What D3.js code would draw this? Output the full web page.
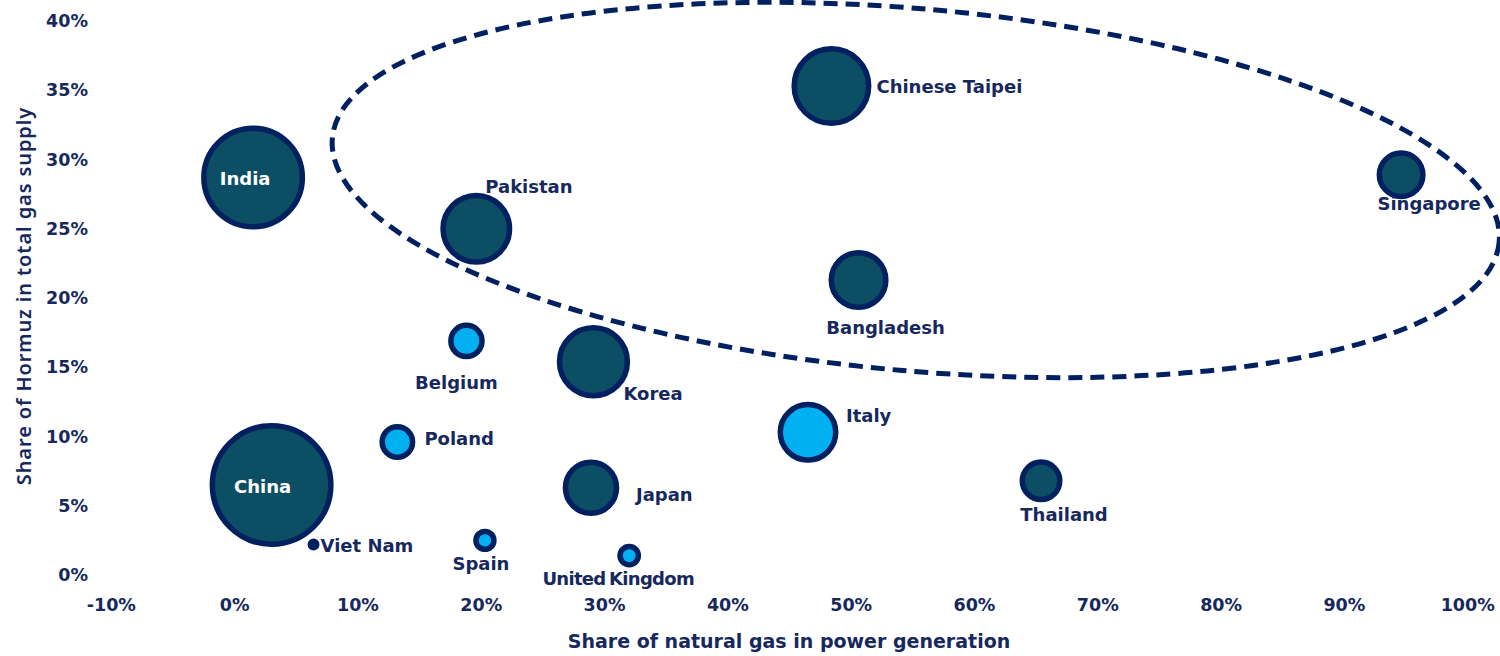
<!DOCTYPE html>
<html><head><meta charset="utf-8">
<script src="https://cdn.jsdelivr.net/npm/d3@7"></script>
<style>
body{margin:0;background:#fff}
svg{display:block}
text{font-family:"DejaVu Sans","Noto Sans",sans-serif}
</style>
</head><body>
<svg id="chart" width="1500" height="656"></svg>
<script>
// ---- data ----
const countries   = ["India","China","Pakistan","Chinese Taipei","Singapore","Bangladesh","Belgium","Korea","Italy","Poland","Japan","Thailand","Viet Nam","Spain","United Kingdom"];
const gasShare    = [0.015, 0.030, 0.196, 0.484, 0.946, 0.506, 0.188, 0.291, 0.465, 0.132, 0.289, 0.654, 0.064, 0.203, 0.320];
const hormuzShare = [0.287, 0.065, 0.250, 0.353, 0.289, 0.213, 0.169, 0.154, 0.103, 0.096, 0.063, 0.068, 0.022, 0.025, 0.014];
const bubbleSize  = [69.1, 100, 31.5, 39.5, 13.5, 21.2, 6.9, 32.8, 21.9, 6.6, 18.6, 10.0, 0.3, 2.3, 2.4];
const group       = ["asia","asia","asia","asia","asia","asia","europe","asia","europe","europe","asia","asia","asia","europe","europe"];
const xTicks = [-0.1,0,0.1,0.2,0.3,0.4,0.5,0.6,0.7,0.8,0.9,1.0];
const yTicks = [0,0.05,0.10,0.15,0.20,0.25,0.30,0.35,0.40];
const xTitle = "Share of natural gas in power generation";
const yTitle = "Share of Hormuz in total gas supply";

// ---- style / layout ----
const navy = "#002060", teal = "#0c4e64", sky = "#00b0f0", txt = "#16285c";
const strokeW = 5.5;
// label placement: [anchor, dx, dy, color]
const labelPlace = {
  "India":["middle",-8,1,"#fff"],
  "China":["middle",-9,2,"#fff"],
  "Pakistan":["start",9,-42,txt],
  "Chinese Taipei":["start",45,0,txt],
  "Singapore":["middle",28,29,txt],
  "Bangladesh":["middle",27,48,txt],
  "Belgium":["middle",-10,42,txt],
  "Korea":["start",30,32,txt],
  "Italy":["start",38,-17,txt],
  "Poland":["start",27,-4,txt],
  "Japan":["start",45,7,txt],
  "Thailand":["middle",23,34,txt],
  "Viet Nam":["start",7,1,txt],
  "Spain":["middle",-4,23,txt],
  "United Kingdom":["middle",-11,23,txt]
};

const svg = d3.select("#chart");
const x = d3.scaleLinear().domain([-0.1,1.0]).range([111.3,1467.7]);
const y = d3.scaleLinear().domain([0,0.4]).range([575,21]);
const r = d3.scaleSqrt().domain([0,100]).range([0,59.25]);
const pct = v => d3.format(".0%")(v).replace("\u2212","-");

// y ticks
svg.append("g").selectAll("text").data(yTicks).join("text")
  .attr("x",88).attr("y",d=>y(d)).attr("text-anchor","end")
  .attr("dominant-baseline","central")
  .attr("font-size",17.5).attr("font-weight",700).attr("fill",txt)
  .text(pct);
// x ticks
svg.append("g").selectAll("text").data(xTicks).join("text")
  .attr("x",d=>x(d)).attr("y",605).attr("text-anchor","middle")
  .attr("dominant-baseline","central")
  .attr("font-size",17.5).attr("font-weight",700).attr("fill",txt)
  .text(pct);

// axis titles
svg.append("text").attr("x",789).attr("y",641).attr("text-anchor","middle")
  .attr("dominant-baseline","central")
  .attr("font-size",19).attr("font-weight",700).attr("fill",txt).text(xTitle);
svg.append("text").attr("transform","translate(23,296) rotate(-90)")
  .attr("text-anchor","middle").attr("dominant-baseline","central")
  .style("font-family","'Noto Sans',sans-serif")
  .style("letter-spacing","0.9px")
  .attr("font-size",20).attr("font-weight",600).attr("fill",txt).text(yTitle);

// bubbles
const data = countries.map((c,i)=>({name:c,gx:gasShare[i],hy:hormuzShare[i],s:bubbleSize[i],g:group[i]}));
svg.append("g").selectAll("circle").data(data).join("circle")
  .attr("cx",d=>x(d.gx)).attr("cy",d=>y(d.hy)).attr("r",d=>r(d.s))
  .attr("fill",d=>d.g==="europe"?sky:teal)
  .attr("stroke",navy).attr("stroke-width",strokeW);

// labels
svg.append("g").selectAll("text").data(data).join("text")
  .attr("x",d=>x(d.gx)+labelPlace[d.name][1])
  .attr("y",d=>y(d.hy)+labelPlace[d.name][2])
  .attr("text-anchor",d=>labelPlace[d.name][0])
  .attr("dominant-baseline","central")
  .attr("font-size",18).attr("font-weight",700)
  .style("word-spacing",d=>d.name==="United Kingdom"?"-2px":null)
  .style("letter-spacing",d=>d.name==="United Kingdom"?"-0.7px":null)
  .attr("fill",d=>labelPlace[d.name][3])
  .text(d=>d.name);

// dashed ellipse annotation (data units for centre and radii)
const ell = {cx:0.5524, cy:0.278, rx:0.475, ry:0.1307, angle:5.1};
svg.append("ellipse")
  .attr("cx",x(ell.cx)).attr("cy",y(ell.cy))
  .attr("rx",x(ell.rx)-x(0)).attr("ry",y(0)-y(ell.ry))
  .attr("transform",`rotate(${ell.angle},${x(ell.cx)},${y(ell.cy)})`)
  .attr("fill","none").attr("stroke",navy).attr("stroke-width",5)
  .attr("stroke-dasharray","14,8");
</script>
</body></html>
